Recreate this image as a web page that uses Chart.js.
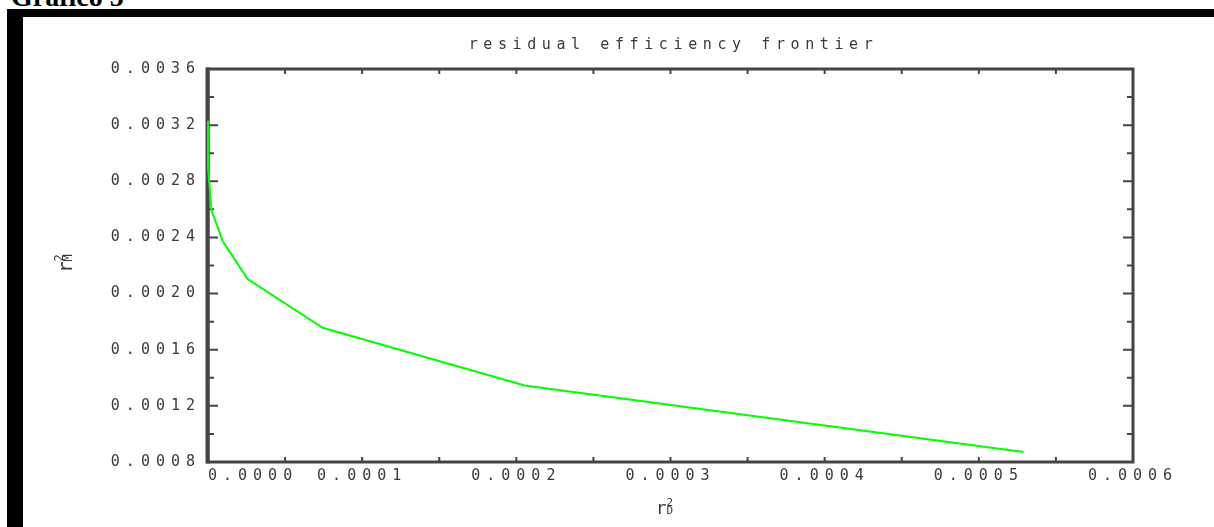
<!DOCTYPE html>
<html>
<head>
<meta charset="utf-8">
<title>residual efficiency frontier</title>
<script src="https://cdn.jsdelivr.net/npm/chart.js@4.4.1/dist/chart.umd.min.js"></script>
<style>
  html, body { margin: 0; padding: 0; background: #fff; overflow: hidden; }
  body { width: 1214px; height: 527px; position: relative; }
  #caption {
    position: absolute; left: 11px; top: -17px;
    font: bold 28px "Liberation Serif", serif; line-height: 28px; color: #000;
  }
  #frame {
    position: absolute; left: 7px; top: 9px; right: -40px; height: 530px;
    box-sizing: border-box;
    border-top: 8px solid #000; border-left: 16px solid #000; border-bottom: 8px solid #000;
  }
  #wrap { position: absolute; left: 23px; top: 17px; width: 1191px; height: 506px; }
</style>
</head>
<body>
<div id="caption">Gráfico 5</div>
<div id="frame"></div>
<div id="wrap"><canvas id="frontier"></canvas></div>
<script>
(function () {
  "use strict";

  // Data
  const chartTitle = "residual efficiency frontier";
  const rD2 = [0.0000002, 0.0, 0.0000023, 0.0000095, 0.0000257, 0.0000744, 0.0002054, 0.000529];
  const rM2 = [0.003231, 0.002897, 0.002591, 0.002375, 0.002104, 0.001756, 0.001345, 0.000871];
  const xRange = [0, 0.0006];
  const yRange = [0.0008, 0.0036];
  const xStep = 0.00005, xLabelStep = 0.0001;
  const yStep = 0.0002, yLabelStep = 0.0004;

  const FONT = "'DejaVu Sans Mono', 'Liberation Mono', monospace";
  const SPACING = "6px";
  const TITLE_SPACING = "5.6px";
  const TEXT = "#3a3a3a";
  const AXIS = "#444";

  function onStep(v, step) {
    const r = v / step;
    return Math.abs(r - Math.round(r)) < 1e-6;
  }

  // stroke-font look: wide letter spacing on all canvas text
  const spacingPlugin = {
    id: "spacing",
    beforeUpdate(chart) { chart.ctx.letterSpacing = SPACING; },
    beforeDraw(chart) { chart.ctx.letterSpacing = SPACING; }
  };

  // box round the plot with inward ticks on all four sides
  const framePlugin = {
    id: "frame",
    beforeDatasetsDraw(chart) {
      const { ctx, chartArea: a } = chart;
      const x = chart.scales.x, y = chart.scales.y;
      ctx.save();
      ctx.strokeStyle = AXIS;
      ctx.lineWidth = 2;
      ctx.beginPath();
      x.ticks.forEach((t) => {
        const px = x.getPixelForValue(t.value);
        if (px <= a.left + 2 || px >= a.right - 2) return;
        ctx.moveTo(px, a.bottom); ctx.lineTo(px, a.bottom - 5);
        ctx.moveTo(px, a.top); ctx.lineTo(px, a.top + 5);
      });
      y.ticks.forEach((t) => {
        const py = y.getPixelForValue(t.value);
        if (py <= a.top + 2 || py >= a.bottom - 2) return;
        const len = onStep(t.value, yLabelStep) ? 10 : 6;
        ctx.moveTo(a.left, py); ctx.lineTo(a.left + len, py);
        ctx.moveTo(a.right, py); ctx.lineTo(a.right - len, py);
      });
      ctx.stroke();
      ctx.lineWidth = 3;
      ctx.strokeRect(a.left, a.top, a.right - a.left, a.bottom - a.top);
      ctx.lineWidth = 4;
      ctx.beginPath();
      ctx.moveTo(a.left - 0.5, a.top - 1.5); ctx.lineTo(a.left - 0.5, a.bottom + 1.5);
      ctx.stroke();
      ctx.restore();
    }
  };

  function drawSquared(ctx, base, sub, big, small) {
    ctx.textAlign = "left";
    ctx.textBaseline = "alphabetic";
    ctx.font = big + "px " + FONT;
    const wb = ctx.measureText(base).width;
    ctx.font = small + "px " + FONT;
    const ws = Math.max(ctx.measureText("2").width, ctx.measureText(sub).width);
    const x0 = -(wb + ws) / 2;
    ctx.font = big + "px " + FONT;
    ctx.fillText(base, x0, 0);
    ctx.font = small + "px " + FONT;
    ctx.fillText("2", x0 + wb, -Math.round(small * 0.72));
    ctx.fillText(sub, x0 + wb, 0);
  }

  // title and axis titles, centred on the plot area
  const labelsPlugin = {
    id: "labels",
    afterDraw(chart) {
      const { ctx, chartArea: a } = chart;
      const cx = (a.left + a.right) / 2;
      const cy = (a.top + a.bottom) / 2;
      ctx.save();
      ctx.fillStyle = TEXT;
      ctx.letterSpacing = TITLE_SPACING;
      ctx.font = "15px " + FONT;
      ctx.textAlign = "center";
      ctx.textBaseline = "middle";
      ctx.fillText(chartTitle, cx + 3, a.top - 24);

      ctx.letterSpacing = "0px";
      ctx.save();
      ctx.translate(cx - 6, a.bottom + 52);
      drawSquared(ctx, "r", "D", 18, 11);
      ctx.restore();

      ctx.save();
      ctx.translate(a.left - 136, cy - 2);
      ctx.rotate(-Math.PI / 2);
      drawSquared(ctx, "r", "M", 19, 12);
      ctx.restore();
      ctx.restore();
    }
  };

  const points = rD2.map((v, i) => ({ x: v, y: rM2[i] }));

  new Chart(document.getElementById("frontier"), {
    type: "scatter",
    data: {
      datasets: [
        {
          data: points,
          showLine: true,
          borderColor: "#00ff00",
          borderWidth: 2,
          pointRadius: 0,
          tension: 0,
          clip: 6,
        },
      ],
    },
    options: {
      responsive: true,
      maintainAspectRatio: false,
      animation: false,
      events: [],
      layout: { padding: { top: 52, right: 81, left: 0, bottom: 0 } },
      plugins: {
        legend: { display: false },
        title: { display: false },
        tooltip: { enabled: false },
      },
      scales: {
        x: {
          type: "linear",
          min: xRange[0],
          max: xRange[1],
          grid: { display: false, drawTicks: false },
          border: { display: false },
          ticks: {
            stepSize: xStep,
            autoSkip: false,
            maxRotation: 0,
            padding: 5,
            color: TEXT,
            font: { family: FONT, size: 15 },
            callback: (v) => {
              if (!onStep(v, xLabelStep)) return "";
              const s = v.toFixed(4);
              // first label sits inside the plot, clear of the y labels
              return Math.abs(v) < 1e-12 ? "      " + s : s;
            },
          },
          afterFit: (s) => { s.height = 61; },
        },
        y: {
          type: "linear",
          min: yRange[0],
          max: yRange[1],
          grid: { display: false, drawTicks: false },
          border: { display: false },
          ticks: {
            stepSize: yStep,
            autoSkip: false,
            padding: 7,
            color: TEXT,
            font: { family: FONT, size: 15 },
            callback: (v) => (onStep(v, yLabelStep) ? v.toFixed(4) : ""),
          },
          afterFit: (s) => { s.width = 185; },
        },
      },
    },
    plugins: [spacingPlugin, framePlugin, labelsPlugin],
  });
})();
</script>
</body>
</html>
